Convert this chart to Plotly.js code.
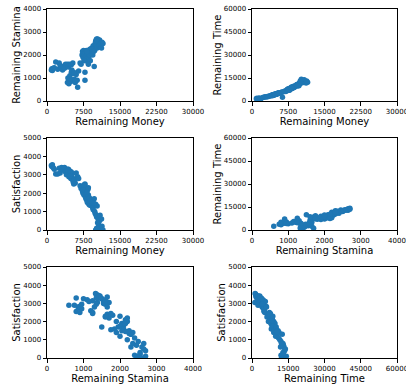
<!DOCTYPE html>
<html>
<head>
<meta charset="utf-8">
<script src="https://cdn.plot.ly/plotly-3.0.1.min.js"></script>
<style>html,body{margin:0;padding:0;background:#fff;}#chart{width:406px;height:385px;}</style>
</head>
<body>
<div id="chart"></div>
<script>
// Each index is one observation: money, stamina, time, satisfaction
var money = [900,1000,1100,1300,1500,1800,2200,2500,2700,3000,3200,3400,3600,3800,4000,4200,4400,4600,5000,5300,
  4200,4300,4500,4700,4900,5000,5200,5400,5600,5800,6000,6200,6300,5100,4800,6500,5500,
  6800,7000,7200,7300,7400,7500,7600,7700,7800,7800,7900,8000,8100,8200,8300,8400,8500,8600,8700,8800,8900,9000,8500,7600,8200,
  9200,9400,9500,9700,9800,9900,10000,10100,10200,10300,9300,9600,
  10400,10500,10600,10700,10800,10900,11000,11100,11200,11300,11500,10000,10200];
var stamina = [1350,1400,1330,1420,1450,1700,1380,1650,1550,1450,1350,1500,1420,1600,1550,1600,1480,1600,1580,1650,
  800,1000,750,1100,850,1250,900,1200,950,800,1150,900,600,1350,950,1300,1250,
  1650,1600,2000,2150,1900,2200,2050,1800,900,1250,2100,1950,2200,1850,2050,1700,2150,1900,2000,2250,1750,2100,1600,1750,2150,
  2300,2000,2400,1500,2200,2500,2350,2650,2450,2300,2250,2150,
  2700,2600,2550,2400,2650,2350,2500,2450,2300,2550,2500,2600,2700];
var time = [1500,1800,1300,1600,2000,1200,2300,2500,2800,2600,3000,2900,3200,3500,3600,4000,3800,4200,4600,5000,
  3500,4000,3800,4500,4200,4800,4600,5000,5200,5000,5500,5800,2500,4400,4300,6000,5300,
  6500,6200,7200,7500,6800,8000,7800,7000,7200,7600,8200,8500,9000,8000,9200,8400,9500,9000,8800,9800,9300,10000,8600,7300,8300,
  10500,9800,11000,10000,11500,12000,11200,12800,13000,12500,10800,10200,
  13500,13200,12800,12000,13800,12200,12600,12400,11800,13000,12200,13000,14200];
var satisfaction = [3500,3450,3550,3380,3300,3050,3050,3350,3100,3400,3300,3250,3400,3150,3000,3200,3300,2950,3050,2800,
  3300,3250,2900,3200,2800,3150,2750,2600,2700,2550,3100,2850,2900,2950,2950,2800,2500,
  2400,2250,2300,2100,2000,2200,1900,2350,2500,2450,1800,1700,2000,1600,1500,2200,1900,1400,1750,1350,1550,1600,2300,2450,2050,
  1300,1200,1100,1700,1000,900,1400,800,700,1300,1500,1450,
  400,600,300,150,500,800,100,50,600,200,0,0,100];

var moneyTicks = [0, 7500, 15000, 22500, 30000];
var staminaTicks = [0, 1000, 2000, 3000, 4000];
var timeTicks = [0, 15000, 30000, 45000, 60000];
var satisfactionTicks = [0, 1000, 2000, 3000, 4000, 5000];

var vars = {
  money: {data: money, label: 'Remaining Money', range: [0, 30000], ticks: moneyTicks},
  stamina: {data: stamina, label: 'Remaining Stamina', range: [0, 4000], ticks: staminaTicks},
  time: {data: time, label: 'Remaining Time', range: [0, 60000], ticks: timeTicks},
  satisfaction: {data: satisfaction, label: 'Satisfaction', range: [0, 5000], ticks: satisfactionTicks}
};
var pairs = [
  ['money', 'stamina'], ['money', 'time'],
  ['money', 'satisfaction'], ['stamina', 'time'],
  ['stamina', 'satisfaction'], ['time', 'satisfaction']
];
var W = 406, H = 385;
var colsPx = [[47, 193], [252, 397]];
var rowsPx = [[9, 101], [138, 230], [267, 358]];

var traces = [];
var layout = {
  width: W, height: H,
  margin: {l: 0, r: 0, t: 0, b: 0},
  paper_bgcolor: '#fff', plot_bgcolor: '#fff',
  showlegend: false,
  font: {family: 'DejaVu Sans', color: '#000'}
};
pairs.forEach(function (p, i) {
  var xv = vars[p[0]], yv = vars[p[1]];
  var n = i + 1;
  var xa = n === 1 ? 'x' : 'x' + n, ya = n === 1 ? 'y' : 'y' + n;
  traces.push({
    type: 'scatter', mode: 'markers', x: xv.data, y: yv.data,
    xaxis: xa, yaxis: ya,
    marker: {color: '#1f77b4', size: 5.5, line: {width: 0}},
    cliponaxis: true
  });
  var c = colsPx[i % 2], r = rowsPx[Math.floor(i / 2)];
  var common = {
    showgrid: false, zeroline: false, showline: true, mirror: true,
    linecolor: '#000', linewidth: 1, ticks: 'outside', ticklen: 3.5, tickwidth: 1,
    tickcolor: '#000', tickfont: {size: 7, family: 'DejaVu Sans', color: '#000'},
    automargin: false, fixedrange: true, ticklabeloverflow: 'allow'
  };
  layout[(n === 1 ? 'xaxis' : 'xaxis' + n)] = Object.assign({}, common, {
    domain: [c[0] / W, c[1] / W], anchor: ya, range: xv.range,
    tickmode: 'array', tickvals: xv.ticks, ticktext: xv.ticks.map(String), tickangle: 0,
    title: {text: xv.label, font: {size: 10, family: 'DejaVu Sans', color: '#000'}, standoff: 1}
  });
  layout[(n === 1 ? 'yaxis' : 'yaxis' + n)] = Object.assign({}, common, {
    domain: [1 - r[1] / H, 1 - r[0] / H], anchor: xa, range: yv.range,
    tickmode: 'array', tickvals: yv.ticks, ticktext: yv.ticks.map(String),
    title: {text: yv.label, font: {size: 10, family: 'DejaVu Sans', color: '#000'}, standoff: 0}
  });
});
Plotly.newPlot('chart', traces, layout, {staticPlot: true});
</script>
</body>
</html>
